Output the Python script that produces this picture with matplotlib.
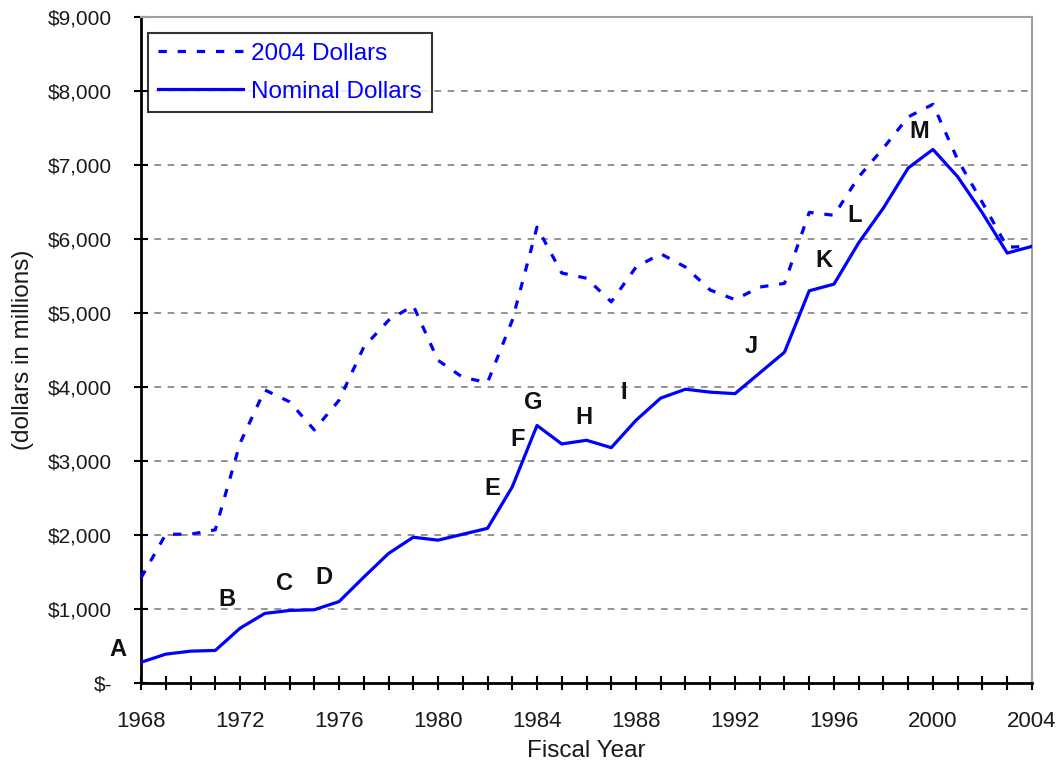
import numpy as np
import matplotlib
matplotlib.use("Agg")
import matplotlib.pyplot as plt
from matplotlib.ticker import FixedLocator, MultipleLocator

# ------------------------------------------------
# Data
# ------------------------------------------------
years = list(range(1968, 2005))

nominal = [280, 390, 430, 440, 740, 940, 980, 990, 1100, 1430,
           1750, 1970, 1930, 2010, 2090, 2650, 3480, 3230, 3280, 3180,
           3550, 3850, 3970, 3930, 3910, 4190, 4470, 5300, 5390, 5950,
           6420, 6960, 7210, 6840, 6350, 5810, 5900]

real_2004 = [1420, 2010, 2010, 2070, 3240, 3960, 3800, 3420, 3820, 4540,
             4900, 5100, 4360, 4130, 4060, 4900, 6160, 5540, 5470, 5150,
             5620, 5800, 5620, 5310, 5180, 5350, 5400, 6360, 6320, 6840,
             7230, 7650, 7820, 7070, 6490, 5890, 5900]

labels = ["A", "B", "C", "D", "E", "F", "G", "H", "I", "J", "K", "L", "M"]
label_x = [1967.07, 1971.47, 1973.8, 1975.4, 1982.2, 1983.2, 1983.84,
           1985.9, 1987.5, 1992.65, 1995.6, 1996.85, 1999.43]
label_y = [446, 1122, 1351, 1432, 2622, 3284, 3784, 3581, 3919, 4541,
           5703, 6324, 7446]

y_ticks = list(range(0, 10000, 1000))
y_tick_labels = ["$-"] + ["${:,}".format(v) for v in y_ticks[1:]]
x_major = list(range(1968, 2005, 4))

# ------------------------------------------------
# Figure
# ------------------------------------------------
plt.rcParams["font.family"] = ["Liberation Sans", "DejaVu Sans"]
fig = plt.figure(figsize=(10.58, 7.65), dpi=100)
ax = fig.add_axes([0.1333, 0.1072, 0.8421, 0.8706])

blue = "#0000ff"
ax.plot(years, real_2004, color=blue, lw=2.3, linestyle=(0, (2.6, 3.4)),
        label="2004 Dollars", zorder=3)
ax.plot(years, nominal, color=blue, lw=2.3, label="Nominal Dollars", zorder=3)

# letter markers
for t, x, y in zip(labels, label_x, label_y):
    ax.text(x, y, t, fontsize=17, fontweight="bold", ha="center",
            va="center", color="#111111", clip_on=False)

# grid lines
for v in y_ticks[1:-1]:
    ax.axhline(v, color="#808080", lw=1.2, linestyle=(0, (4, 4)), zorder=1)

ax.set_xlim(1968, 2004)
ax.set_ylim(0, 9000)
ax.set_yticks(y_ticks)
ax.set_yticklabels(y_tick_labels)
ax.xaxis.set_major_locator(FixedLocator(x_major))
ax.xaxis.set_minor_locator(MultipleLocator(1))

ax.tick_params(axis="both", which="both", direction="inout", length=10,
               width=1.5, colors="black", labelcolor="#1a1a1a")
ax.tick_params(axis="x", which="both", pad=15, labelsize=16)
ax.tick_params(axis="y", pad=16, labelsize=15)

ax.spines["left"].set_linewidth(2)
ax.spines["bottom"].set_linewidth(2)
ax.spines["right"].set_color("#a0a0a0")
ax.spines["right"].set_linewidth(1.5)
ax.spines["top"].set_color("#a0a0a0")
ax.spines["top"].set_linewidth(1.5)

ax.set_xlabel("Fiscal Year", fontsize=17.5, color="#1a1a1a", labelpad=6)
ax.set_ylabel("(dollars in millions)", fontsize=17.5, color="#1a1a1a",
              labelpad=10)

# legend
leg = ax.legend(loc="upper left", bbox_to_anchor=(0.0079, 0.976),
                fontsize=17.5, frameon=True, fancybox=False,
                handlelength=3.5, handletextpad=0.35, borderpad=0.4,
                labelspacing=0.65, borderaxespad=0.0)
leg.get_frame().set_edgecolor("black")
leg.get_frame().set_linewidth(1.5)
for txt in leg.get_texts():
    txt.set_color(blue)

fig.savefig("out.png", dpi=100)
